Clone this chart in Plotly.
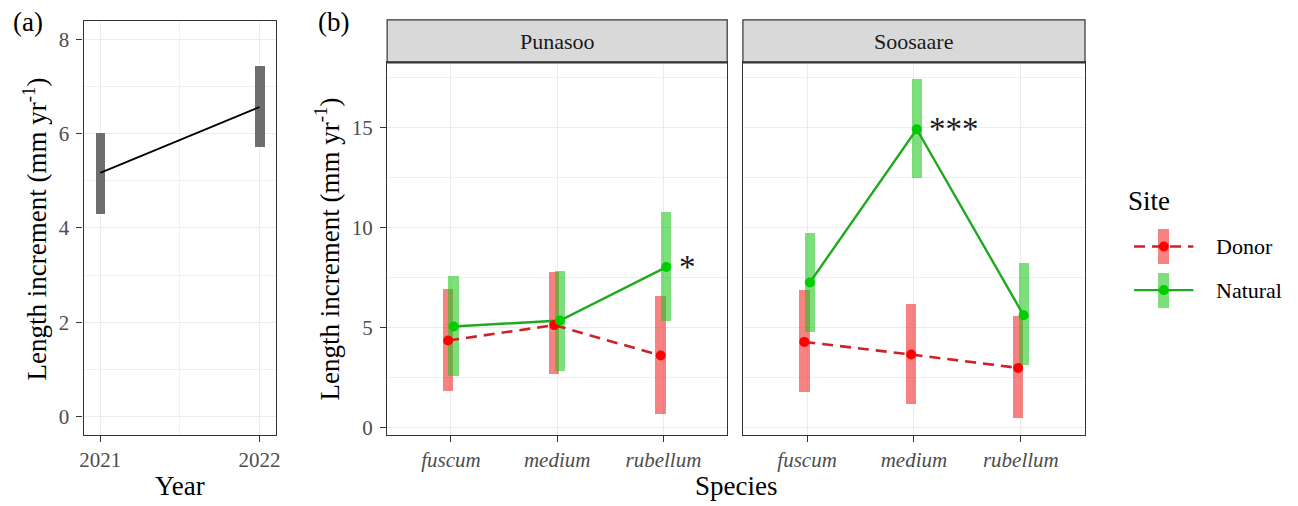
import plotly.graph_objects as go

W, H = 1298, 506


def px(x):
    return x / W


def py(y):
    return 1 - y / H


# ---- panel (a): yearly means with intervals ----
years = [2021, 2022]
year_mean = [5.17, 6.57]
year_low = [4.30, 5.72]
year_high = [6.02, 7.44]

# ---- panel (b): species x site, faceted by location ----
species = ["fuscum", "medium", "rubellum"]
sites = ["Donor", "Natural"]
locations = ["Punasoo", "Soosaare"]

pun_donor_mean = [4.36, 5.13, 3.61]
pun_donor_low = [1.83, 2.69, 0.69]
pun_donor_high = [6.93, 7.79, 6.55]
pun_natural_mean = [5.06, 5.36, 8.03]
pun_natural_low = [2.59, 2.80, 5.31]
pun_natural_high = [7.57, 7.82, 10.76]

soo_donor_mean = [4.29, 3.66, 2.99]
soo_donor_low = [1.76, 1.15, 0.48]
soo_donor_high = [6.85, 6.17, 5.56]
soo_natural_mean = [7.26, 14.92, 5.62]
soo_natural_low = [4.77, 12.44, 3.12]
soo_natural_high = [9.73, 17.41, 8.20]

signif_species = ["rubellum", "medium"]
signif_labels = ["*", "***"]

FONT = "Liberation Serif"
TICK_COLOR = "#4D4D4D"
BORDER = "#333333"
GRID = "#EBEBEB"
GRID_MINOR = "#F0F0F0"

site_style = {
    "Donor": dict(bar="rgba(240,40,40,0.58)", line="#CC2229", point="#FF0000",
                  dash="11px,7px", width=2.6, offset=-0.026),
    "Natural": dict(bar="rgba(30,200,30,0.58)", line="#1FAA1F", point="#00CD00",
                    dash="solid", width=2.4, offset=0.026),
}

facet_data = {
    "Punasoo": {
        "Donor": (pun_donor_mean, pun_donor_low, pun_donor_high),
        "Natural": (pun_natural_mean, pun_natural_low, pun_natural_high),
    },
    "Soosaare": {
        "Donor": (soo_donor_mean, soo_donor_low, soo_donor_high),
        "Natural": (soo_natural_mean, soo_natural_low, soo_natural_high),
    },
}
facet_axes = {"Punasoo": ("x2", "y2"), "Soosaare": ("x3", "y3")}
species_pos = list(range(1, len(species) + 1))

fig = go.Figure()

# panel (a)
fig.add_trace(go.Bar(
    x=years, y=[h - l for h, l in zip(year_high, year_low)], base=year_low,
    width=0.059, marker=dict(color="#6E6E6E", line=dict(width=0)),
    xaxis="x", yaxis="y", showlegend=False, hoverinfo="skip"))
fig.add_trace(go.Scatter(
    x=years, y=year_mean, mode="lines", line=dict(color="black", width=1.8),
    xaxis="x", yaxis="y", showlegend=False))

# panel (b): interval bars first, then lines, then points
for loc in locations:
    xa, ya = facet_axes[loc]
    for site in sites:
        st = site_style[site]
        mean, low, high = facet_data[loc][site]
        fig.add_trace(go.Bar(
            x=[p + st["offset"] for p in species_pos],
            y=[h - l for h, l in zip(high, low)], base=low, width=0.097,
            marker=dict(color=st["bar"], line=dict(width=0)),
            xaxis=xa, yaxis=ya, showlegend=False, hoverinfo="skip"))
for loc in locations:
    xa, ya = facet_axes[loc]
    for site in sites:
        st = site_style[site]
        mean, low, high = facet_data[loc][site]
        fig.add_trace(go.Scatter(
            x=[p + st["offset"] for p in species_pos], y=mean, mode="lines",
            line=dict(color=st["line"], width=st["width"], dash=st["dash"]),
            xaxis=xa, yaxis=ya, showlegend=False))
for loc in locations:
    xa, ya = facet_axes[loc]
    for site in sites:
        st = site_style[site]
        mean, low, high = facet_data[loc][site]
        fig.add_trace(go.Scatter(
            x=[p + st["offset"] for p in species_pos], y=mean, mode="markers",
            marker=dict(color=st["point"], size=10),
            xaxis=xa, yaxis=ya, showlegend=False))

# legend keys drawn on their own small axis
legend_rows = {"Donor": 1, "Natural": 0}
for site in sites:
    st = site_style[site]
    row = legend_rows[site]
    fig.add_trace(go.Bar(
        x=[0.5], y=[0.8], base=[row - 0.4], width=0.18,
        marker=dict(color=st["bar"], line=dict(width=0)),
        xaxis="x4", yaxis="y4", showlegend=False, hoverinfo="skip"))
    fig.add_trace(go.Scatter(
        x=[0, 1], y=[row, row], mode="lines",
        line=dict(color=st["line"], width=st["width"], dash=st["dash"]),
        xaxis="x4", yaxis="y4", showlegend=False))
    fig.add_trace(go.Scatter(
        x=[0.5], y=[row], mode="markers",
        marker=dict(color=st["point"], size=10),
        xaxis="x4", yaxis="y4", showlegend=False))

common_axis = dict(
    showline=True, linecolor=BORDER, linewidth=1.2, mirror=True,
    ticks="outside", tickcolor=BORDER, tickwidth=1.2, ticklen=6,
    tickfont=dict(family=FONT, size=21, color=TICK_COLOR),
    showgrid=True, gridcolor=GRID, gridwidth=1.2, zeroline=False,
    ticklabelstandoff=3,
)
x_axis = dict(common_axis, ticklabelstandoff=0)

panel_bottom = 439.5
layout = dict(
    width=W, height=H,
    margin=dict(l=0, r=0, t=0, b=0),
    paper_bgcolor="white", plot_bgcolor="white",
    barmode="overlay", bargap=0,
    font=dict(family=FONT, color="black"),
    showlegend=False,
    xaxis=dict(x_axis, domain=[px(80), px(274)], range=[2020.895, 2022.105],
               tickvals=years, ticktext=[str(y) for y in years], anchor="y",
               minor=dict(tickvals=[2021.5], showgrid=True, gridcolor=GRID_MINOR,
                          gridwidth=0.8, ticklen=0)),
    yaxis=dict(common_axis, domain=[py(panel_bottom), py(21)], range=[-0.4, 8.4],
               tickvals=[0, 2, 4, 6, 8], anchor="x",
               minor=dict(tickvals=[1, 3, 5, 7], showgrid=True, gridcolor=GRID_MINOR,
                          gridwidth=0.8, ticklen=0)),
    xaxis2=dict(x_axis, domain=[px(385.5), px(727.7)], range=[0.4, 3.6],
                tickvals=species_pos, ticktext=[f"<i>{s}</i>" for s in species],
                anchor="y2"),
    yaxis2=dict(common_axis, domain=[py(panel_bottom), py(63)], range=[-0.37, 18.26],
                tickvals=[0, 5, 10, 15], anchor="x2",
                minor=dict(tickvals=[2.5, 7.5, 12.5, 17.5], showgrid=True,
                           gridcolor=GRID_MINOR, gridwidth=0.8, ticklen=0)),
    xaxis3=dict(x_axis, domain=[px(743.5), px(1087.7)], range=[0.4, 3.6],
                tickvals=species_pos, ticktext=[f"<i>{s}</i>" for s in species],
                anchor="y3"),
    yaxis3=dict(common_axis, domain=[py(panel_bottom), py(63)], range=[-0.37, 18.26],
                tickvals=[0, 5, 10, 15], anchor="x3", showticklabels=False, ticks="",
                minor=dict(tickvals=[2.5, 7.5, 12.5, 17.5], showgrid=True,
                           gridcolor=GRID_MINOR, gridwidth=0.8, ticklen=0)),
    xaxis4=dict(domain=[px(1137), px(1197)], range=[0, 1], visible=False,
                anchor="y4", fixedrange=True),
    yaxis4=dict(domain=[py(315), py(227)], range=[-0.5, 1.5], visible=False,
                anchor="x4", fixedrange=True),
)
fig.update_layout(**layout)

# facet strips
shapes = []
annotations = []
strip_x = {"Punasoo": (385.5, 727.7), "Soosaare": (743.5, 1087.7)}
for loc in locations:
    x0, x1 = strip_x[loc]
    shapes.append(dict(type="rect", xref="paper", yref="paper",
                       x0=px(x0), x1=px(x1), y0=py(63), y1=py(20),
                       fillcolor="#D9D9D9", line=dict(color=BORDER, width=1.2),
                       layer="above"))
    shapes.append(dict(type="line", xref="paper", yref="paper",
                       x0=px(x0), x1=px(x1), y0=py(63), y1=py(63),
                       line=dict(color=BORDER, width=2.2), layer="above"))
    annotations.append(dict(text=loc, xref="paper", yref="paper",
                            x=px((x0 + x1) / 2), y=py(41.5), showarrow=False,
                            xanchor="center", yanchor="middle",
                            font=dict(family=FONT, size=22, color="#1A1A1A")))

# significance markers next to the Natural points
for loc, sp, lab in zip(locations, signif_species, signif_labels):
    xa, ya = facet_axes[loc]
    i = species.index(sp)
    annotations.append(dict(text=lab, xref=xa, yref=ya,
                            x=species_pos[i] + site_style["Natural"]["offset"] + 0.1,
                            y=facet_data[loc]["Natural"][0][i],
                            showarrow=False, xanchor="left", yanchor="middle",
                            font=dict(family=FONT, size=33, color="#1A1A1A")))

title_font = dict(family=FONT, size=27, color="black")
ytitle = "Length increment (mm yr<sup>-1</sup>)"
annotations += [
    dict(text="(a)", xref="paper", yref="paper", x=px(7), y=py(22),
         showarrow=False, xanchor="left", yanchor="middle", font=title_font),
    dict(text="(b)", xref="paper", yref="paper", x=px(314), y=py(22),
         showarrow=False, xanchor="left", yanchor="middle", font=title_font),
    dict(text=ytitle, xref="paper", yref="paper", x=px(31), y=py(231),
         textangle=-90, showarrow=False, xanchor="center", yanchor="middle",
         font=title_font),
    dict(text=ytitle, xref="paper", yref="paper", x=px(325), y=py(251),
         textangle=-90, showarrow=False, xanchor="center", yanchor="middle",
         font=title_font),
    dict(text="Year", xref="paper", yref="paper", x=px(177), y=py(491),
         showarrow=False, xanchor="center", yanchor="middle", font=title_font),
    dict(text="Species", xref="paper", yref="paper", x=px(736.5), y=py(491),
         showarrow=False, xanchor="center", yanchor="middle", font=title_font),
    dict(text="Site", xref="paper", yref="paper", x=px(1129), y=py(203),
         showarrow=False, xanchor="left", yanchor="middle", font=title_font),
]
for site in sites:
    annotations.append(dict(text=site, xref="paper", yref="y4", x=px(1218),
                            y=legend_rows[site], showarrow=False,
                            xanchor="left", yanchor="middle",
                            font=dict(family=FONT, size=22, color="black")))

fig.update_layout(shapes=shapes, annotations=annotations)

fig.write_html("out.html")
